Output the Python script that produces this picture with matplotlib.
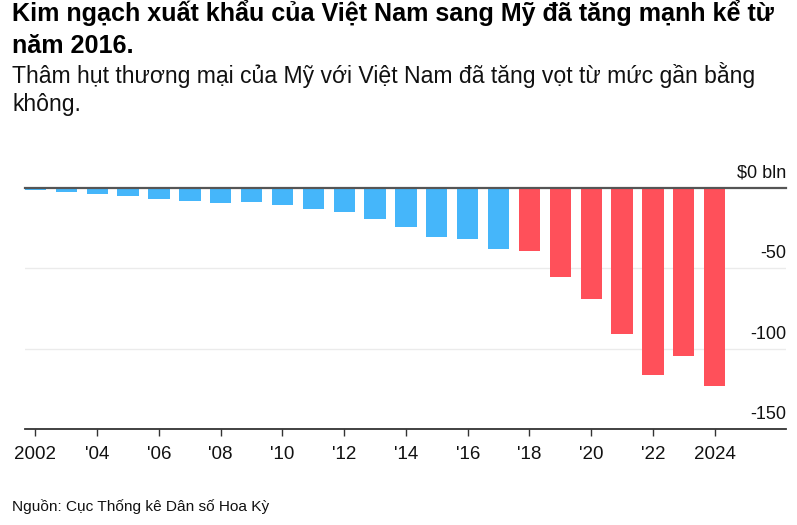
import matplotlib
matplotlib.use("Agg")
import matplotlib.pyplot as plt
import matplotlib.transforms as mtransforms

plt.rcParams['font.family'] = ['Liberation Sans', 'DejaVu Sans']

years = list(range(2002, 2025))
balance = [-1.4, -2.9, -3.9, -5.1, -7.2, -8.4, -9.7, -8.9, -10.7, -13.0, -15.3,
           -19.2, -24.6, -30.8, -31.8, -38.0, -39.1, -55.4, -69.4, -90.7, -116.1,
           -104.5, -123.4]
colors = ['#45b6fa' if y < 2018 else '#ff505a' for y in years]
tick_years = list(range(2002, 2025, 2))
tick_labels = ['2002', "'04", "'06", "'08", "'10", "'12", "'14", "'16", "'18",
               "'20", "'22", '2024']
grid_values = [0, -50, -100, -150]
grid_labels = ['$0 bln', '-50', '-100', '-150']
title_lines = ['Kim ngạch xuất khẩu của Việt Nam sang Mỹ đã tăng mạnh kể từ',
               'năm 2016.']
subtitle_lines = ['Thâm hụt thương mại của Mỹ với Việt Nam đã tăng vọt từ mức gần bằng',
                  'không.']
source = 'Nguồn: Cục Thống kê Dân số Hoa Kỳ'

W, H = 797, 525
fig = plt.figure(figsize=(W / 100, H / 100), dpi=100)
left, right = 25 / W, 786 / W
top, bottom = 1 - 187.7 / H, 1 - 429.3 / H
ax = fig.add_axes([left, bottom, right - left, top - bottom])

ax.bar(years, balance, width=0.69, color=colors, zorder=2)
ax.set_xlim(2001.66, 2026.31)
ax.set_ylim(-150, 0)

for s in ['top', 'left', 'right']:
    ax.spines[s].set_visible(False)
ax.spines['bottom'].set_color('#333333')
ax.spines['bottom'].set_linewidth(1.3)

ax.axhline(0, color='#555555', lw=1.6, zorder=3, clip_on=False)
for g in grid_values[1:3]:
    ax.axhline(g, color='#ebebeb', lw=1.0, zorder=1)

ax.set_yticks([])
ax.set_xticks(tick_years)
ax.set_xticklabels(tick_labels, fontsize=13.5, color='#111111')
ax.tick_params(axis='x', length=5, width=1, color='#333333', pad=7)

blend = mtransforms.blended_transform_factory(ax.transAxes, ax.transData)
for g, lab in zip(grid_values, grid_labels):
    tr = mtransforms.offset_copy(blend, fig=fig, x=0, y=4.5, units='points')
    ax.text(1.0, g, lab, transform=tr, ha='right', va='bottom',
            fontsize=13, color='#111111', clip_on=False)

for line, base in zip(title_lines, [21, 53.3]):
    fig.text(12 / W, 1 - base / H, line, ha='left', va='baseline',
             fontsize=18.1, fontweight='bold', color='#000000')
for line, base in zip(subtitle_lines, [83.3, 111]):
    fig.text(12 / W, 1 - base / H, line, ha='left', va='baseline',
             fontsize=16.6, color='#111111')
fig.text(12 / W, 1 - 510.7 / H, source,
         ha='left', va='baseline', fontsize=11.1, color='#111111')

fig.savefig('out.png', dpi=100)
